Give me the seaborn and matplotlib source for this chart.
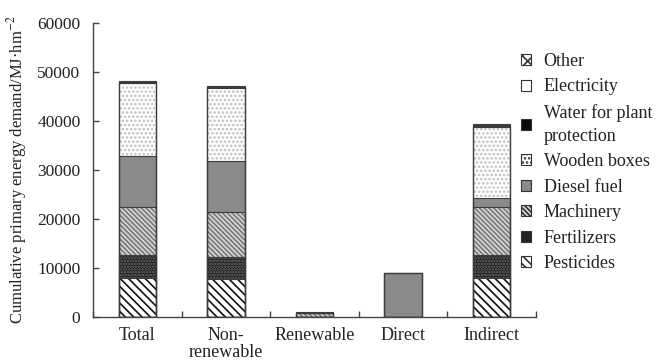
import matplotlib
matplotlib.use("Agg")
import matplotlib.pyplot as plt
from matplotlib.patches import Patch
import seaborn as sns
import pandas as pd
import numpy as np

# Categories on the x axis
categories = ["Total", "Non-renewable", "Renewable", "Direct", "Indirect"]
tick_labels = ["Total", "Non-\nrenewable", "Renewable", "Direct", "Indirect"]

# Energy demand per input (MJ/hm2), bottom to top of each stack
pesticides = [8000, 7800, 0, 0, 8000]
fertilizers = [4700, 4500, 0, 0, 4700]
machinery = [9700, 9100, 800, 0, 9700]
diesel_fuel = [10500, 10500, 0, 9000, 1800]
wooden_boxes = [14800, 14800, 0, 0, 14600]
water = [200, 200, 0, 0, 200]
electricity = [100, 100, 0, 0, 100]
other = [200, 100, 200, 0, 200]

series_names = ["Pesticides", "Fertilizers", "Machinery", "Diesel fuel",
                "Wooden boxes", "Water for plant protection", "Electricity", "Other"]
series_values = [pesticides, fertilizers, machinery, diesel_fuel,
                 wooden_boxes, water, electricity, other]
legend_labels = {"Water for plant protection": "Water for plant\nprotection"}

# (face colour, hatch, hatch colour) for each input
styles = {
    "Pesticides": ("white", "\\" * 4, "#111111"),
    "Fertilizers": ("#1a1a1a", "......", "#707070"),
    "Machinery": ("#d8d8d8", "\\" * 7, "#777777"),
    "Diesel fuel": ("#8a8a8a", "", "#8a8a8a"),
    "Wooden boxes": ("white", "....", "#bdbdbd"),
    "Water for plant protection": ("#0a0a0a", "", "#0a0a0a"),
    "Electricity": ("white", "", "white"),
    "Other": ("white", "xxx", "#111111"),
}

sns.set_theme(style="white")
plt.rcParams["font.family"] = ["Liberation Serif", "DejaVu Serif"]
plt.rcParams["mathtext.fontset"] = "stix"
plt.rcParams["hatch.linewidth"] = 1.2

fig = plt.figure(figsize=(6.56, 3.6), dpi=100)
ax = fig.add_axes([93 / 656, 1 - 317 / 360, (536 - 93) / 656, (317 - 23) / 360])

df = pd.DataFrame({"category": categories})
cum = np.zeros(len(categories))
cums = []
for name, vals in zip(series_names, series_values):
    cum = cum + np.array(vals, dtype=float)
    cums.append(cum.copy())

bar_w = 0.42
# Draw cumulative totals from the top layer down so each segment shows through
for name, c in reversed(list(zip(series_names, cums))):
    face, hatch, hcol = styles[name]
    df["value"] = c
    sns.barplot(data=df, x="category", y="value", order=categories, ax=ax,
                color=face, width=bar_w, hatch=hatch, edgecolor=hcol,
                linewidth=0, saturation=1, errorbar=None)

# Segment outlines
for c in cums:
    df["value"] = c
    sns.barplot(data=df, x="category", y="value", order=categories, ax=ax,
                color="#3c3c3c", fill=False, width=bar_w, linewidth=0.8,
                saturation=1, errorbar=None)

ax.set_xlim(-0.5, 4.5)
ax.set_ylim(0, 60000)
ax.set_yticks(np.arange(0, 60001, 10000))
ax.set_xticks(range(len(categories)))
ax.set_xticklabels(tick_labels)
ax.set_xticks(np.arange(-0.5, 4.6, 1.0), minor=True)
ax.tick_params(axis="x", which="major", length=0, pad=7, labelsize=13, colors="#222222")
ax.tick_params(axis="x", which="minor", direction="in", length=4, width=1, color="#444444", bottom=True)
ax.tick_params(axis="y", direction="in", length=4, width=1, color="#444444", left=True,
               pad=9, labelsize=12.5, labelcolor="#222222")
for t in ax.get_xticklabels():
    t.set_linespacing(1.05)
ax.set_xlabel("")
ax.set_ylabel("Cumulative primary energy demand/MJ·hm$^{-2}$", fontsize=12, color="#222222",
              labelpad=6)
sns.despine(ax=ax)
for s in ("left", "bottom"):
    ax.spines[s].set_color("#444444")
    ax.spines[s].set_linewidth(1.0)

# Legend, top entry first
handles = []
labels = []
for name in reversed(series_names):
    face, hatch, hcol = styles[name]
    handles.append(Patch(facecolor=face, hatch=hatch, edgecolor=hcol, linewidth=0.8))
    labels.append(legend_labels.get(name, name))
leg = fig.legend(handles, labels, loc="upper left", bbox_to_anchor=(521 / 656, 1 - 53 / 360),
                 frameon=False, fontsize=13, handlelength=0.55, handleheight=0.55,
                 handletextpad=0.7, labelspacing=0.47, borderpad=0, borderaxespad=0)
for t in leg.get_texts():
    t.set_color("#222222")
    t.set_linespacing(1.45)
for h in leg.legend_handles:
    h.set_edgecolor("#333333")

fig.savefig("out.png", dpi=100)
